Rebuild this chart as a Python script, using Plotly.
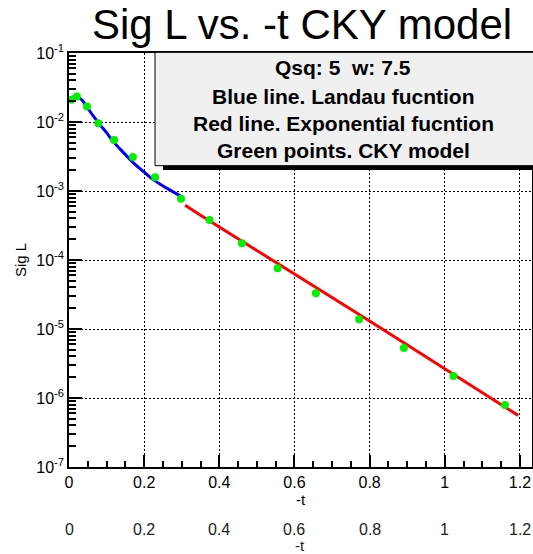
import plotly.graph_objects as go

# ---- data ----
cky_t = [0.006, 0.021, 0.048, 0.078, 0.120, 0.170, 0.229, 0.298,
         0.374, 0.460, 0.555, 0.657, 0.772, 0.891, 1.023, 1.160]
cky_sig = [0.0210, 0.0235, 0.0168, 0.0096, 0.0055, 0.0031, 0.00158, 0.00077,
           3.8e-4, 1.75e-4, 7.6e-5, 3.3e-5, 1.39e-5, 5.3e-6, 2.09e-6, 7.9e-7]

landau_t = [0.001, 0.008, 0.016, 0.025, 0.034, 0.045, 0.056, 0.070, 0.083, 0.100,
            0.118, 0.145, 0.172, 0.200, 0.225, 0.260, 0.296]
landau_sig = [0.0198, 0.0225, 0.0234, 0.0226, 0.0210, 0.0175, 0.0142, 0.0112, 0.0091, 0.0070,
              0.0052, 0.0036, 0.00253, 0.00188, 0.00145, 0.00110, 0.00085]

expo_t = [0.309, 0.349, 0.803, 1.195]
expo_sig = [6.2e-4, 4.5e-4, 1.27e-5, 5.6e-7]

x_ticks = [0, 0.2, 0.4, 0.6, 0.8, 1, 1.2]
x_ticklabels = ["0", "0.2", "0.4", "0.6", "0.8", "1", "1.2"]

y_ticks = [1e-7, 1e-6, 1e-5, 1e-4, 1e-3, 1e-2, 1e-1]
y_ticklabels = ["10<sup>-7</sup>", "10<sup>-6</sup>", "10<sup>-5</sup>", "10<sup>-4</sup>",
                "10<sup>-3</sup>", "10<sup>-2</sup>", "10<sup>-1</sup>"]
y_minor_ticks = [m * 10.0 ** e for e in range(-7, -1) for m in range(2, 10)]

legend_lines = ["Qsq: 5  w: 7.5", "Blue line. Landau fucntion",
                "Red line. Exponential fucntion", "Green points. CKY model"]

title_text = "Sig L vs. -t CKY model"

# ---- geometry (pixels) ----
W, H = 533, 554
L, R, T, B = 69, 1, 53, 87
pw, ph = W - L - R, H - T - B


def px_x(p):
    return (p - L) / pw


def px_y(p):
    return (H - B - p) / ph


FONT = "Liberation Sans, Arial, sans-serif"

fig = go.Figure()

fig.add_trace(go.Scatter(x=expo_t, y=expo_sig, mode="lines",
                         line=dict(color="#ff0000", width=3), showlegend=False))
fig.add_trace(go.Scatter(x=landau_t, y=landau_sig, mode="lines", line_shape="spline",
                         line=dict(color="#0000ff", width=3), showlegend=False))
fig.add_trace(go.Scatter(x=cky_t, y=cky_sig, mode="markers",
                         marker=dict(color="#00f000", size=8, symbol="circle"),
                         showlegend=False))

fig.update_layout(
    width=W, height=H,
    margin=dict(l=L, r=R, t=T, b=B, autoexpand=False),
    paper_bgcolor="white", plot_bgcolor="white",
    font=dict(family=FONT, color="black"),
    title=dict(text=title_text, font=dict(size=42, family=FONT, color="black"),
               x=302 / W, xanchor="center", xref="container",
               y=1 - 24 / H, yanchor="middle", yref="container"),
)

fig.update_xaxes(
    range=[0, 1.232], showline=True, linecolor="black", linewidth=1.5, mirror=True,
    tickmode="array", tickvals=x_ticks, ticktext=x_ticklabels,
    ticks="inside", ticklen=12, tickwidth=1.5, tickcolor="black",
    tickfont=dict(size=16, family=FONT, color="black"),
    showgrid=True, gridcolor="black", gridwidth=1, griddash="2px,2px",
    minor=dict(ticks="inside", ticklen=6, tickwidth=1.5, tickcolor="black",
               dtick=0.05, showgrid=False),
    title=dict(text="-t", font=dict(size=15, family=FONT, color="black"), standoff=0),
    zeroline=False,
)

fig.update_yaxes(
    type="log", range=[-7, -1], showline=True, linecolor="black", linewidth=1.5, mirror=True,
    tickmode="array", tickvals=y_ticks, ticktext=y_ticklabels,
    ticks="inside", ticklen=13, tickwidth=1.5, tickcolor="black",
    tickfont=dict(size=16, family=FONT, color="black"),
    showgrid=True, gridcolor="black", gridwidth=1, griddash="2px,2px",
    minor=dict(ticks="inside", ticklen=7, tickwidth=1.5, tickcolor="black",
               tickmode="array", tickvals=y_minor_ticks, showgrid=False),
    title=dict(text="Sig L", font=dict(size=15, family=FONT, color="black"), standoff=6),
    zeroline=False,
)

# legend pave with shadow
fig.add_shape(type="rect", xref="paper", yref="paper",
              x0=px_x(163), x1=px_x(540), y0=px_y(170), y1=px_y(60),
              fillcolor="black", line=dict(width=0), layer="above")
fig.add_shape(type="rect", xref="paper", yref="paper",
              x0=px_x(155), x1=px_x(540), y0=px_y(165.7), y1=px_y(52.3),
              fillcolor="#f0f0f0", line=dict(color="black", width=1), layer="above")

for txt, yp in zip(legend_lines, [67.7, 96.7, 123.3, 150.0]):
    fig.add_annotation(text="<b>" + txt + "</b>", xref="paper", yref="paper",
                       x=px_x(343), y=px_y(yp), xanchor="center", yanchor="middle",
                       showarrow=False, font=dict(size=21, family=FONT, color="black"))

# ghost duplicate axis labels below the frame
for tv, tl in zip(x_ticks, x_ticklabels):
    fig.add_annotation(text=tl, xref="x", yref="paper", x=tv, y=px_y(529),
                       xanchor="center", yanchor="middle", showarrow=False,
                       font=dict(size=16, family=FONT, color="#222222"))
fig.add_annotation(text="-t", xref="paper", yref="paper", x=px_x(300), y=px_y(545),
                   xanchor="center", yanchor="middle", showarrow=False,
                   font=dict(size=15, family=FONT, color="#222222"))

fig.write_html("out.html")
